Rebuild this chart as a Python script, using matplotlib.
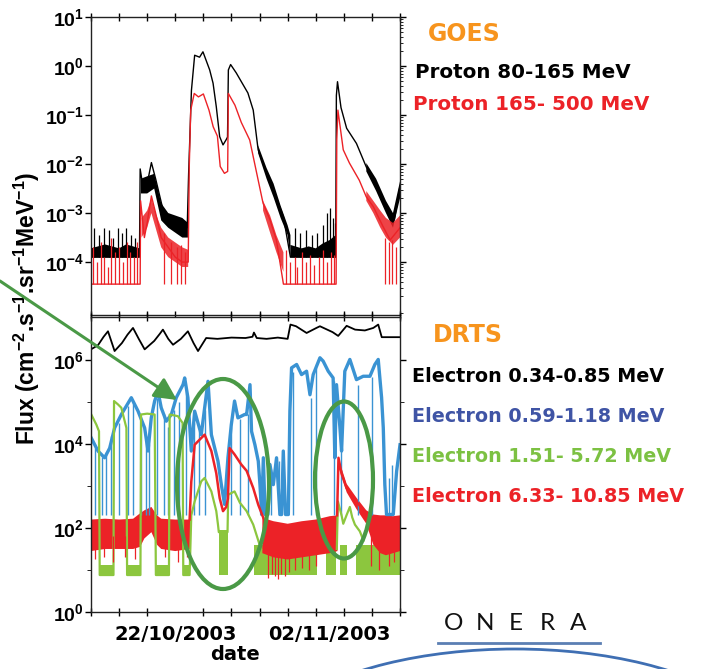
import numpy as np
import matplotlib
matplotlib.use("Agg")
import matplotlib.pyplot as plt
from matplotlib.patches import Ellipse, Arc, FancyArrowPatch
from matplotlib.lines import Line2D
from matplotlib.ticker import FixedLocator, NullFormatter, LogLocator

plt.rcParams['font.family'] = ['Liberation Sans', 'DejaVu Sans']
plt.rcParams['mathtext.fontset'] = 'custom'
plt.rcParams['mathtext.bf'] = 'Liberation Sans:bold'
plt.rcParams['mathtext.rm'] = 'Liberation Sans:bold'
plt.rcParams['mathtext.default'] = 'bf'

nan = np.nan
# time axis: days since 16/10/2003, values are log10(flux)

# ---- GOES protons 80-165 MeV (black)
p80_t = [0.0, 3.45, 3.5, 3.75, 4.0, 4.3, 4.6, 5.1, 5.6, 6.2, 6.85, 6.95, 7.15, 7.38, 7.73, 7.97, 8.45, 8.69, 8.92, 9.16,
         9.4, 9.63, 9.72, 9.78, 9.94, 10.34, 11.17, 11.55, 11.9, 12.5, 13.0, 13.7, 14.2, 17.42, 17.47, 17.55, 17.8, 18.2,
         18.9, 19.6, 20.3, 21.05, 21.6, 22.0]
p80_lg = [-3.9, -3.9, -2.1, -2.55, -2.4, -1.97, -2.3, -2.9, -3.1, -3.2, -3.3, -2.2, -0.5, 0.22, 0.18, 0.29, -0.08, -0.35,
          -0.83, -1.44, -1.61, -1.5, -1.45, -0.08, 0.03, -0.14, -0.55, -0.9, -1.71, -2.19, -2.53, -3.08, -3.9, -3.9, -0.6,
          -0.32, -0.85, -1.27, -1.58, -2.06, -2.4, -2.87, -3.14, -2.45]
p80_band_t = [0, 0.5, 1.0, 1.5, 2.0, 2.5, 3.0, 3.45, nan,
              3.55, 4.0, 4.5, 5.0, 5.5, 6.0, 6.5, 6.9, nan,
              11.9, 12.5, 13.0, 13.5, 14.0, 14.2, nan,
              14.2, 15.0, 15.5, 16.0, 16.5, 17.0, 17.42, nan,
              19.6, 20.3, 21.0, 21.5, 22.0]
p80_band_lo = [-3.9, -3.9, -3.9, -3.9, -3.9, -3.9, -3.9, -3.9, nan,
               -2.6, -2.6, -2.5, -3.15, -3.3, -3.4, -3.5, -3.5, nan,
               -1.78, -2.3, -2.68, -3.1, -3.45, -3.9, nan,
               -3.9, -3.9, -3.9, -3.9, -3.9, -3.9, -3.9, nan,
               -2.15, -2.55, -3.0, -3.3, -2.7]
p80_band_hi = [-3.72, -3.68, -3.64, -3.68, -3.72, -3.64, -3.68, -3.72, nan,
               -2.3, -2.25, -2.2, -2.8, -3.0, -3.05, -3.1, -3.2, nan,
               -1.62, -2.08, -2.4, -2.85, -3.25, -3.45, nan,
               -3.65, -3.72, -3.68, -3.72, -3.62, -3.55, -3.45, nan,
               -1.98, -2.3, -2.75, -3.0, -2.35]
p80_spk_t = [0.2, 0.55, 0.9, 1.3, 1.6, 1.9, 2.2, 2.5, 2.85, 3.15, 14.5, 14.9, 15.3, 15.7, 16.1, 16.5, 16.8, 17.0, 17.2, 17.35]
p80_spk_top = [-3.3, -3.45, -3.3, -3.35, -3.5, -3.3, -3.4, -3.3, -3.45, -3.5, -3.3, -3.4, -3.35, -3.45, -3.4, -3.25,
               -3.0, -2.9, -3.1, -3.2]
p80_floor = -3.9

# ---- GOES protons 165-500 MeV (red)
p165_t = [0, 3.5, 3.53, 3.8, 4.0, 4.3, 4.6, 5.0, 5.5, 6.0, 6.5, 6.92, 7.0, 7.1, 7.35, 7.65, 8.0, 8.4, 8.7, 9.0, 9.2,
          9.5, 9.73, 9.78, 10.25, 10.7, 11.3, 11.8, 12.25, 12.75, 13.2, 13.7, 17.45, 17.5, 17.58, 17.96, 18.4, 19.1,
          19.6, 20.1, 20.8, 21.3, 22.0]
p165_lg = [-4.45, -4.45, -2.75, -3.5, -3.2, -2.65, -3.0, -3.5, -3.7, -3.9, -4.0, -4.0, -2.0, -0.9, -0.56, -0.63, -0.57,
           -0.9, -1.24, -1.43, -2.05, -2.19, -2.15, -0.56, -0.8, -1.15, -1.51, -2.19, -2.8, -3.14, -3.55, -4.45, -4.45,
           -1.5, -0.9, -1.71, -1.98, -2.33, -2.67, -2.87, -3.28, -3.55, -3.3]
p165_band_t = [3.6, 4.0, 4.3, 4.6, 5.0, 5.5, 6.0, 6.5, 6.92, nan,
               12.25, 12.75, 13.2, 13.7, nan,
               19.6, 20.1, 20.6, 21.0, 21.5, 22.0]
p165_band_lo = [-3.5, -3.3, -3.0, -3.3, -3.7, -3.9, -4.0, -4.1, -4.1, nan,
                -2.95, -3.4, -3.8, -4.2, nan,
                -2.75, -3.0, -3.3, -3.5, -3.65, -3.5]
p165_band_hi = [-3.1, -2.95, -2.7, -3.0, -3.3, -3.5, -3.6, -3.7, -3.75, nan,
                -2.75, -3.05, -3.45, -3.8, nan,
                -2.55, -2.75, -2.95, -3.1, -3.2, -3.05]
p165_spk_t = [0.15, 0.4, 0.7, 0.95, 1.2, 1.45, 1.7, 2.0, 2.3, 2.55, 2.8, 3.05, 3.3, 5.2, 5.7, 6.1, 6.4, 6.7, 13.9,
              14.2, 14.5, 14.7, 15.0, 15.3, 15.6, 15.9, 16.2, 16.5, 16.8, 17.1, 17.3, 20.9, 21.2, 21.45, 21.7]
p165_spk_top = [-3.7, -4.0, -3.6, -3.9, -4.1, -3.5, -3.8, -3.7, -4.0, -3.6, -3.8, -3.9, -3.6, -3.4, -3.6, -3.7, -3.65,
                -3.8, -3.75, -4.0, -3.9, -4.1, -3.8, -4.0, -3.85, -4.05, -3.9, -3.75, -4.0, -3.8, -3.85, -3.5, -3.6,
                -3.55, -3.7]
p165_floor = -4.45

# ---- DRTS electrons 0.34-0.85 MeV (black)
e034_t = [0.0, 0.5, 0.9, 1.21, 1.68, 2.2, 2.6, 2.99, 3.4, 3.82, 4.5, 4.9, 5.12, 5.5, 5.84, 6.4, 6.9, 7.3, 7.62, 7.9,
          8.2, 9.0, 10.0, 11.0, 11.5, 11.6, 11.8, 12.5, 13.3, 14.0, 14.2, 14.6, 15.35, 16.05, 16.3, 17.2, 17.6, 18.2,
          18.8, 19.5, 20.1, 20.45, 20.7, 22.0]
e034_lg = [6.25, 6.35, 6.55, 6.68, 6.21, 6.4, 6.6, 6.76, 6.5, 6.25, 6.45, 6.62, 6.72, 6.5, 6.36, 6.5, 6.68, 6.4, 6.21,
           6.36, 6.52, 6.5, 6.53, 6.52, 6.55, 6.65, 6.52, 6.5, 6.53, 6.5, 6.84, 6.8, 6.64, 6.76, 6.8, 6.66, 6.57, 6.81,
           6.72, 6.7, 6.76, 6.84, 6.54, 6.54]

# ---- DRTS electrons 0.59-1.18 MeV (blue)
e059_t = [0.02, 0.5, 0.97, 1.33, 1.68, 2.16, 2.87, 3.35, 3.82, 4.06, 4.29, 4.53, 4.77, 5.0, 5.36, 5.72, 6.07, 6.55,
          6.67, 6.9, 7.14, 7.38, 7.85, 8.33, 8.57, 9.04, 9.28, 9.51, 9.75, 9.99, 10.22, 10.46, 10.94, 11.08, 11.32,
          11.43, 11.67, 11.91, 12.03, 12.15, 12.27, 12.4, 12.6, 12.74, 12.98, 13.21, 13.45, 13.57, 13.69, 13.85,
          14.05, 14.16, 14.28, 14.64, 14.99, 15.35, 15.59, 15.82, 16.3, 16.53, 16.89, 17.24, 17.36, 17.48, 17.72,
          17.84, 18.07, 18.43, 18.9, 19.38, 19.86, 20.21, 20.45, 20.69, 20.81, 20.92, 21.04, 21.52, 21.76, 22.0]
e059_lg = [4.14, 3.83, 3.67, 3.9, 4.38, 4.7, 5.1, 4.78, 4.38, 3.83, 4.62, 5.02, 5.25, 4.86, 4.54, 4.7, 5.1, 5.41,
           5.57, 5.1, 3.83, 4.78, 4.22, 5.49, 4.22, 3.59, 3.03, 2.56, 3.67, 4.46, 5.02, 4.62, 4.7, 4.7, 5.41, 4.3,
           3.98, 3.59, 3.03, 2.32, 3.67, 2.32, 2.32, 3.51, 3.03, 3.67, 2.32, 2.32, 3.83, 2.32, 2.32, 4.78, 5.81,
           5.89, 5.65, 5.73, 5.17, 5.65, 6.05, 5.97, 5.73, 5.57, 3.67, 5.41, 4.4, 3.83, 5.73, 6.01, 5.53, 5.61,
           5.61, 5.89, 6.01, 5.1, 4.38, 3.03, 2.32, 2.32, 3.35, 3.98]
e059_drop_t = [0.3, 0.8, 1.1, 1.45, 2.0, 2.6, 3.0, 3.55, 3.9, 4.15, 4.7, 5.2, 5.5, 5.9, 6.3, 6.75, 7.3, 7.7, 8.15,
               10.0, 10.6, 11.2, 12.85, 13.35, 14.4, 15.65, 16.0, 17.3, 17.8, 19.0, 20.0, 21.2, 21.4]
e059_drop_top = [3.9, 3.7, 3.8, 4.2, 4.5, 4.9, 5.0, 4.6, 4.2, 4.0, 5.1, 4.7, 4.4, 4.8, 5.0, 5.3, 4.5, 4.3, 4.8,
                 4.4, 4.6, 4.7, 3.4, 3.6, 5.7, 5.1, 5.8, 5.5, 4.0, 5.4, 5.6, 3.2, 3.5]
e059_floor = 2.32

# ---- DRTS electrons 1.51-5.72 MeV (green)
e151_t = [0.02, 0.38, 0.57, 0.62, 1.6, 1.64, 1.92, 2.16, 2.52, 2.57, 3.52, 3.56, 4.0, 4.53, 4.62, 5.55, 5.6, 6.19,
          6.52, 6.57, 7.02, 7.14, 7.38, 7.85, 8.09, 8.57, 8.92, 9.04, 9.1, 9.72, 9.77, 10.22, 10.6, 11.08, 11.55,
          11.91, 12.1]
e151_lg = [4.7, 4.46, 4.3, 0.88, 0.88, 5.02, 4.94, 4.86, 4.38, 0.88, 0.88, 4.7, 4.72, 4.7, 0.88, 0.88, 4.7, 4.66,
           4.5, 0.88, 0.88, 2.3, 2.63, 3.11, 3.19, 2.87, 2.4, 2.08, 1.9, 1.9, 2.79, 2.87, 2.6, 2.4, 2.08, 1.7, 1.5]
e151b_t = [17.5, 17.58, 17.72, 17.84, 17.96, 18.19, 18.43, 18.6, 18.79, 19.14, 19.4]
e151b_lg = [1.5, 2.63, 2.45, 2.3, 2.1, 2.3, 2.5, 2.25, 2.08, 1.92, 1.7]
e151_blk_start = [0.64, 2.57, 4.62, 6.57, 9.08, 11.6, 16.7, 17.75, 18.9]
e151_blk_end = [1.6, 3.52, 5.55, 7.02, 9.74, 16.1, 17.45, 18.2, 22.0]
e151_blk_top = [1.13, 1.13, 1.13, 1.13, 1.95, 1.6, 1.6, 1.6, 1.6]
e151_floor = 0.88

# ---- DRTS electrons 6.33-10.85 MeV (red)
e633_t = [7.02, 7.14, 7.38, 7.73, 8.09, 8.57, 8.92, 9.16, 9.4, 9.63, 9.75, 9.87, 10.22, 10.7, 11.08, 11.55, 11.91, 12.27]
e633_lg = [2.2, 3.1, 3.98, 4.1, 4.22, 3.83, 3.3, 2.71, 2.4, 2.5, 2.7, 3.9, 3.75, 3.51, 3.36, 2.95, 2.55, 2.24]
e633b_t = [17.52, 17.62, 17.84, 18.19, 18.9, 19.62, 20.09]
e633b_lg = [2.3, 3.67, 3.29, 2.95, 2.63, 2.32, 2.24]
e633_band_t = [0, 1, 2, 3, 3.5, 3.8, 4.3, 4.7, 5.0, 6.0, 7.05, nan,
               12.2, 13.0, 14.0, 15.0, 16.0, 17.0, 17.55, nan,
               17.6, 18.2, 18.9, 19.6, 20.1, 20.6, 21.0, 21.5, 22.0]
e633_band_hi = [2.2, 2.22, 2.2, 2.22, 2.35, 2.42, 2.5, 2.3, 2.22, 2.2, 2.2, nan,
                2.24, 2.16, 2.1, 2.16, 2.2, 2.28, 2.3, nan,
                3.67, 3.05, 2.72, 2.42, 2.32, 2.3, 2.3, 2.28, 2.3]
e633_band_lo = [1.45, 1.5, 1.5, 1.5, 1.55, 1.75, 1.9, 1.6, 1.5, 1.45, 1.5, nan,
                1.4, 1.3, 1.25, 1.3, 1.35, 1.4, 1.45, nan,
                3.5, 2.85, 2.45, 2.1, 1.6, 1.4, 1.35, 1.4, 1.45]
e633_spk_t = [0.3, 0.9, 1.6, 2.4, 3.1, 5.3, 6.2, 6.8, 12.6, 12.9, 13.1, 13.3, 13.55, 13.8, 14.1, 14.5, 15.0, 15.5,
              16.0, 19.9, 20.5, 21.2, 21.6]
e633_spk_bot = [1.25, 1.3, 1.2, 1.3, 1.25, 1.3, 1.2, 1.3, 0.8, 0.9, 0.85, 0.78, 0.9, 0.85, 0.95, 1.0, 1.05, 1.0,
                1.1, 1.1, 1.0, 1.1, 1.2]

date_pos = [6, 17]
date_labels = ['22/10/2003', '02/11/2003']

BLACK = 'black'
RED = '#ec2227'
BLUE = '#3a93d3'
GREEN = '#8cc63e'
ORANGE = '#f7941d'
DARKGREEN = '#4a9946'


def P(a):
    return 10.0 ** np.asarray(a, dtype=float)


fig = plt.figure(figsize=(7.04, 6.69), dpi=100)
W, H = 704.0, 669.0
ax1 = fig.add_axes([91 / W, 1 - 315 / H, 309 / W, 298 / H])
ax2 = fig.add_axes([91 / W, 1 - 612 / H, 309 / W, 295 / H])

# top panel: GOES protons
ax1.fill_between(p80_band_t, P(p80_band_lo), P(p80_band_hi), color=BLACK, lw=0)
ax1.vlines(p80_spk_t, P(p80_floor), P(p80_spk_top), color=BLACK, lw=0.9)
ax1.plot(p80_t, P(p80_lg), color=BLACK, lw=1.0)
ax1.fill_between(p165_band_t, P(p165_band_lo), P(p165_band_hi), color=RED, lw=0, alpha=0.85)
ax1.vlines(p165_spk_t, P(p165_floor), P(p165_spk_top), color=RED, lw=0.9)
ax1.plot(p165_t, P(p165_lg), color=RED, lw=1.0)

# bottom panel: DRTS electrons
ax2.plot(e034_t, P(e034_lg), color=BLACK, lw=1.3)
ax2.vlines(e059_drop_t, P(e059_floor), P(e059_drop_top), color=BLUE, lw=1.0)
ax2.plot(e059_t, P(e059_lg), color=BLUE, lw=2.4)
for s, e, top in zip(e151_blk_start, e151_blk_end, e151_blk_top):
    ax2.fill_between([s, e], P(e151_floor), P(top), color=GREEN, lw=0)
ax2.plot(e151_t, P(e151_lg), color=GREEN, lw=1.6)
ax2.plot(e151b_t, P(e151b_lg), color=GREEN, lw=1.6)
ax2.fill_between(e633_band_t, P(e633_band_lo), P(e633_band_hi), color=RED, lw=0)
ax2.vlines(e633_spk_t, P(e633_spk_bot), P(1.8), color=RED, lw=0.9)
ax2.plot(e633_t, P(e633_lg), color=RED, lw=1.8)
ax2.plot(e633b_t, P(e633b_lg), color=RED, lw=1.8)

# axes formatting
for ax in (ax1, ax2):
    ax.set_yscale('log')
    ax.set_xlim(0, 22)
    ax.xaxis.set_minor_locator(FixedLocator(np.arange(0, 23, 2)))
    ax.tick_params(axis='x', which='minor', direction='inout', length=6, width=1, top=True, bottom=True)
    ax.tick_params(axis='y', which='major', direction='out', length=4, width=1, left=True, right=True,
                   labelsize=14, pad=1)
    for sp in ax.spines.values():
        sp.set_linewidth(1.0)
        sp.set_color('#222222')

ax1.set_ylim(P(-5.08), P(1.0))
ax1.set_yticks(P(range(-4, 2)))
ax1.set_yticklabels([r'$10^{%d}$' % k for k in range(-4, 2)])
ax1.yaxis.set_minor_locator(LogLocator(base=10, subs=np.arange(2, 10), numticks=20))
ax1.yaxis.set_minor_formatter(NullFormatter())
ax1.tick_params(axis='y', which='minor', direction='out', length=2.5, left=False, right=True)
ax1.set_xticks([])

ax2.set_ylim(1, P(7.02))
ax2.set_yticks(P([0, 2, 4, 6]))
ax2.set_yticklabels([r'$10^{%d}$' % k for k in (0, 2, 4, 6)])
ax2.yaxis.set_minor_locator(FixedLocator(P([1, 3, 5])))
ax2.yaxis.set_minor_formatter(NullFormatter())
ax2.tick_params(axis='y', which='minor', direction='out', length=3, left=True, right=True)
ax2.set_xticks(date_pos)
ax2.set_xticklabels(date_labels, fontsize=14, fontweight='bold', family='DejaVu Sans')
ax2.tick_params(axis='x', which='major', length=0, pad=9)

# labels
fig.text(27 / W, 1 - 308 / H, r'Flux (cm$^{-2}$.s$^{-1}$.sr$^{-1}$MeV$^{-1}$)', rotation=90,
         ha='center', va='center', fontsize=16.5, fontweight='bold')
fig.text(235 / W, 1 - 655 / H, 'date', ha='center', va='center', fontsize=14, fontweight='bold',
         family='DejaVu Sans')

legend_kw = dict(ha='left', va='center', fontweight='bold', family='DejaVu Sans')
fig.text(428 / W, 1 - 34 / H, 'GOES', color=ORANGE, fontsize=17, **legend_kw)
fig.text(415 / W, 1 - 73 / H, 'Proton 80-165 MeV', color=BLACK, fontsize=14.3, **legend_kw)
fig.text(413 / W, 1 - 104 / H, 'Proton 165- 500 MeV', color=RED, fontsize=14.3, **legend_kw)
fig.text(433 / W, 1 - 335 / H, 'DRTS', color=ORANGE, fontsize=17, **legend_kw)
fig.text(412 / W, 1 - 376 / H, 'Electron 0.34-0.85 MeV', color=BLACK, fontsize=13.8, **legend_kw)
fig.text(412 / W, 1 - 416 / H, 'Electron 0.59-1.18 MeV', color='#3f54a5', fontsize=13.8, **legend_kw)
fig.text(412 / W, 1 - 457 / H, 'Electron 1.51- 5.72 MeV', color='#7cc142', fontsize=13.8, **legend_kw)
fig.text(412 / W, 1 - 497 / H, 'Electron 6.33- 10.85 MeV', color=RED, fontsize=13.8, **legend_kw)

# annotations: ellipses and arrow
fig.add_artist(Ellipse((223 / W, 1 - 484 / H), 92 / W, 210 / H, transform=fig.transFigure,
                       fill=False, ec=DARKGREEN, lw=3.0, zorder=5))
fig.add_artist(Ellipse((344 / W, 1 - 480 / H), 58 / W, 157 / H, transform=fig.transFigure,
                       fill=False, ec=DARKGREEN, lw=3.0, zorder=5))
fig.add_artist(FancyArrowPatch((0, 1 - 281 / H), (177 / W, 1 - 400 / H), transform=fig.transFigure,
                               arrowstyle='-|>,head_length=0.9,head_width=0.45', mutation_scale=15,
                               color=DARKGREEN, lw=2.2, shrinkA=0, shrinkB=0, zorder=6))

# ONERA logo
for i, ch in enumerate('ONERA'):
    fig.text((454 + 31 * i) / W, 1 - 624 / H, ch, ha='center', va='center', fontsize=17.5,
             family='Lato', fontweight='normal', color='#111111')
fig.add_artist(Line2D([438 / W, 600 / W], [1 - 643 / H, 1 - 643 / H], color='#5b7fb3', lw=2.0))
fig.add_artist(Arc((515 / W, 1 - 761 / H), 520 / W, 224 / H, theta1=15, theta2=165,
                   transform=fig.transFigure, color='#3f6fb3', lw=2.0))

fig.savefig('out.png', dpi=100)
